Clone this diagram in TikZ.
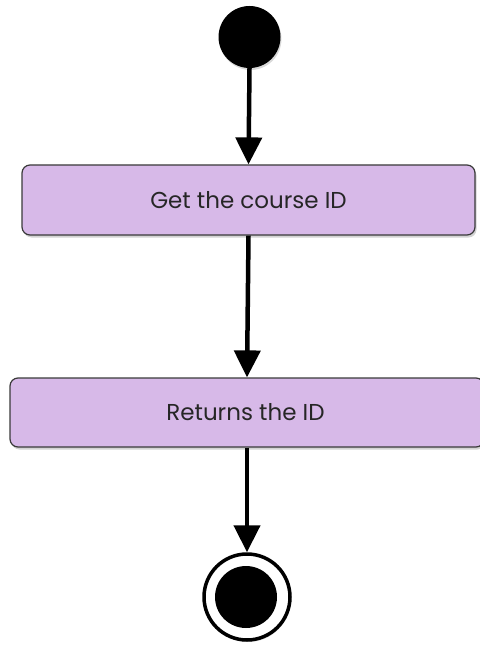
\documentclass[tikz,border=0pt]{standalone}
\usepackage{fontspec}
\setmainfont{Poppins}
\usetikzlibrary{arrows.meta,shadows}
\definecolor{boxfill}{HTML}{D7B9E8}
\definecolor{boxline}{HTML}{3A3A3A}
\tikzset{
  actbox/.style={draw=boxline, line width=1.2pt, fill=boxfill, rounded corners=8pt,
    drop shadow={shadow xshift=1.5pt, shadow yshift=-2.5pt, opacity=0.35},
    font=\fontsize{23}{26}\selectfont, text=black!85, inner sep=0pt, minimum height=70pt},
  flow/.style={line width=4.5pt, -{Triangle[length=27pt,width=26pt]}},
  dot/.style={circle, fill=black, minimum size=62pt, inner sep=0pt},
}
\begin{document}
\begin{tikzpicture}[x=1pt,y=-1pt]
\useasboundingbox (0,0) rectangle (479,647);
\node[dot, drop shadow={shadow xshift=1pt, shadow yshift=-2pt, opacity=0.3}] (start) at (249.5,37) {};
\node[actbox, minimum width=453pt] (get) at (248.5,200) {Get the course ID};
\node[actbox, minimum width=474pt, minimum height=69pt] (ret) at (247,412.5) {\hspace*{-3pt}Returns the ID};
\node[circle, draw=black, line width=3.5pt, fill=white, minimum size=86pt, inner sep=0pt,
  drop shadow={shadow xshift=1pt, shadow yshift=-2pt, opacity=0.3}] (end) at (247,597) {};
\node[dot] (endin) at (246,597) {};
\draw[flow] (start.south) -- (get.north);
\draw[flow] (get.south) -- (ret.north);
\draw[flow] (ret.south) -- (end.north);
\end{tikzpicture}
\end{document}
